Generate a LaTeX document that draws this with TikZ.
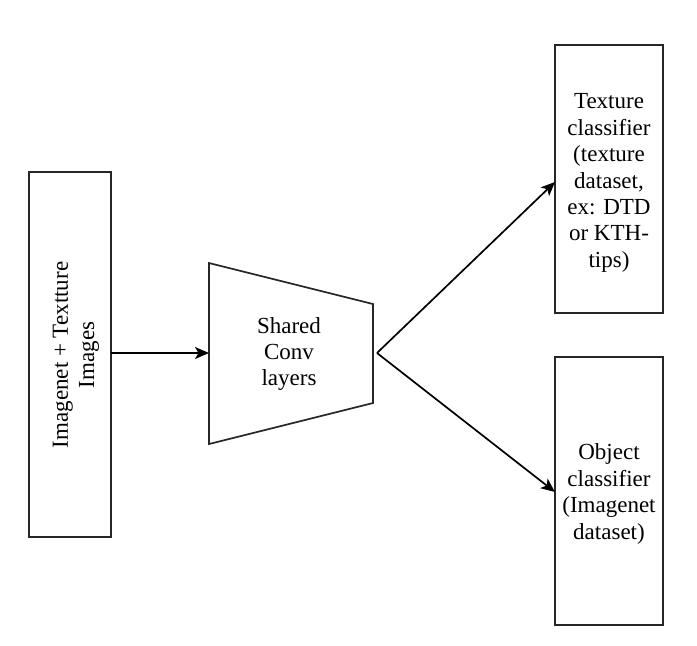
\documentclass[tikz,border=0pt]{standalone}
\usepackage{fontspec}
\setmainfont{Liberation Serif}
\usetikzlibrary{arrows.meta}
\begin{document}
\begin{tikzpicture}[x=1pt,y=-1pt,
  box/.style={draw=black!85,line width=1.7pt,fill=white},
  lbl/.style={align=center,font=\fontsize{23}{26.4}\selectfont,inner sep=0pt},
  conn/.style={line width=1.7pt,-{Stealth[length=14pt,width=12pt,inset=3.5pt]}}]
\useasboundingbox (0,0) rectangle (697,646);
% input box
\draw[box] (29,172) rectangle (111,537);
\coordinate (inR) at (111,353);
\node[lbl,rotate=90] (intext) at (76,355) {Imagenet + Textture\\Images};
% trapezoid
\draw[box] (209,263) -- (373,304) -- (373,403) -- (209,444) -- cycle;
\coordinate (trL) at (209,353);
\coordinate (trR) at (377,353);
\node[lbl] (shared) at (289,354) {Shared\\Conv\\layers};
% texture classifier
\draw[box] (555,45) rectangle (663,313);
\coordinate (texL) at (555,182);
\node[lbl] (tex) at (609,183) {Texture\\classifier\\(texture\\dataset,\\ex: DTD\\or KTH-\\tips)};
% object classifier
\draw[box] (555,357) rectangle (663,625);
\coordinate (objL) at (555,492);
\node[lbl] (obj) at (609,494) {Object\\classifier\\(Imagenet\\dataset)};
% connectors
\draw[conn] (inR) -- (trL);
\draw[conn] (trR) -- (texL);
\draw[conn] (trR) -- (objL);
\end{tikzpicture}
\end{document}
